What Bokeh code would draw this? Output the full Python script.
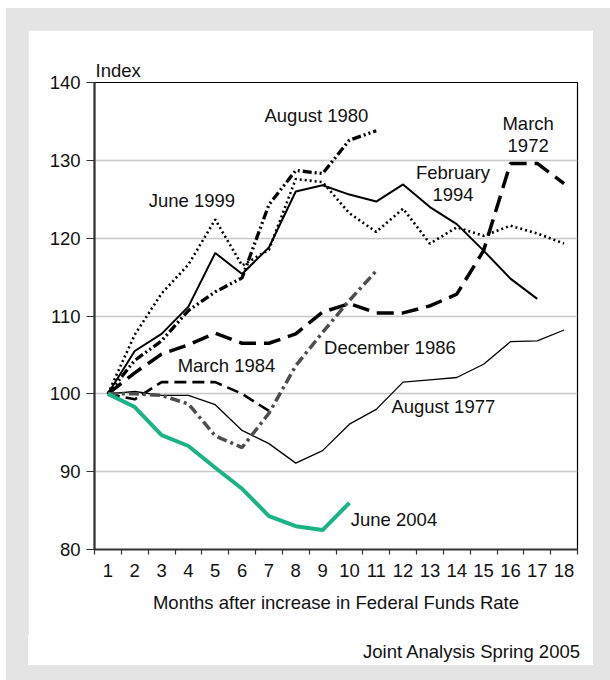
from bokeh.plotting import figure
from bokeh.models import Range1d, FixedTicker, Label, Title, Div
from bokeh.layouts import column
from bokeh.embed import file_html
from bokeh.resources import INLINE

FONT = "Liberation Sans"
FS = "18.5px"

months = list(range(1, 19))

june_2004 = [100, 98.3, 94.7, 93.3, 90.5, 87.8, 84.3, 83.0, 82.5, 86.0]
june_1999 = [100, 107.6, 112.9, 116.6, 122.4, 116.5, 118.5, 127.6, 127.2, 123.2,
             120.8, 123.8, 119.3, 121.4, 120.3, 121.6, 120.6, 119.3]
february_1994 = [100, 105.5, 107.7, 111.2, 118.1, 115.4, 118.8, 126.0, 126.8, 125.6,
                 124.7, 126.9, 124.0, 121.8, 118.4, 114.8, 112.2]
august_1980 = [100, 104.3, 106.8, 110.7, 113.1, 114.9, 124.3, 128.7, 128.3, 132.6, 133.8]
march_1972 = [100, 102.7, 105.1, 106.3, 107.8, 106.5, 106.5, 107.7, 110.5, 111.6,
              110.4, 110.4, 111.3, 112.8, 118.4, 129.6, 129.6, 127.0]
march_1984 = [100, 99.3, 101.5, 101.5, 101.5, 100.0, 97.8]
december_1986 = [100, 100.0, 99.8, 98.7, 94.6, 93.1, 97.5, 103.6, 107.9, 112.0, 115.8]
august_1977 = [100, 100.3, 99.8, 99.8, 98.6, 95.3, 93.6, 91.1, 92.7, 96.1,
               98.0, 101.5, 101.8, 102.1, 103.8, 106.7, 106.8, 108.2]

y_ticks = [80, 90, 100, 110, 120, 130, 140]

p = figure(width=565, height=605, output_backend="svg", toolbar_location=None,
           x_range=Range1d(0.5, 18.5), y_range=Range1d(80, 140),
           min_border_left=66, min_border_right=16, min_border_top=52, min_border_bottom=86,
           border_fill_color="white", background_fill_color="white",
           outline_line_color="black", outline_line_width=1.2, margin=0)

p.xgrid.grid_line_color = None
p.ygrid.grid_line_color = "#c8c8c8"
p.ygrid.grid_line_width = 1.5

p.xaxis.ticker = FixedTicker(ticks=months, minor_ticks=[m - 0.5 for m in months] + [18.5])
p.xaxis.major_tick_out = 0
p.xaxis.major_tick_in = 0
p.xaxis.minor_tick_out = 5
p.xaxis.minor_tick_in = 0
p.xaxis.minor_tick_line_color = "#333333"
p.xaxis.minor_tick_line_width = 1.2
p.xaxis.axis_line_color = "#333333"
p.xaxis.axis_line_width = 2
p.xaxis.major_label_standoff = 9
p.xaxis.axis_label = "Months after increase in Federal Funds Rate"
p.xaxis.axis_label_standoff = 12

p.yaxis.ticker = FixedTicker(ticks=y_ticks)
p.yaxis.minor_tick_line_color = None
p.yaxis.major_tick_out = 8
p.yaxis.major_tick_in = 0
p.yaxis.major_tick_line_color = "#333333"
p.yaxis.major_tick_line_width = 1.2
p.yaxis.axis_line_color = "#333333"
p.yaxis.axis_line_width = 2.2
p.yaxis.major_label_standoff = 6

for ax in (p.xaxis, p.yaxis):
    ax.major_label_text_font = FONT
    ax.major_label_text_font_size = FS
    ax.major_label_text_color = "#111111"
    ax.axis_label_text_font = FONT
    ax.axis_label_text_font_size = FS
    ax.axis_label_text_font_style = "normal"
    ax.axis_label_text_color = "#111111"

def xs(vals):
    return months[:len(vals)]

p.line(xs(august_1977), august_1977, line_color="black", line_width=1.3)
p.line(xs(february_1994), february_1994, line_color="black", line_width=2)
p.line(xs(june_1999), june_1999, line_color="black", line_width=2.6, line_dash="2 3")
p.line(xs(march_1984), march_1984, line_color="black", line_width=2.6, line_dash="12 6")
p.line(xs(march_1972), march_1972, line_color="black", line_width=3.5, line_dash="17 8")
p.line(xs(august_1980), august_1980, line_color="black", line_width=3.3, line_dash="9 3 2 3 2 3")
p.line(xs(december_1986), december_1986, line_color="#4d4d4d", line_width=3.5, line_dash="10 4 3 4")
p.line(xs(june_2004), june_2004, line_color="#1bb386", line_width=4)

labels = [
    ("August 1980", 8.77, 135.8),
    ("June 1999", 4.13, 124.8),
    ("February", 13.86, 128.4),
    ("1994", 13.86, 125.6),
    ("March", 16.66, 134.7),
    ("1972", 16.66, 131.9),
    ("March 1984", 5.42, 103.6),
    ("December 1986", 11.51, 105.9),
    ("August 1977", 13.5, 98.4),
    ("June 2004", 11.66, 83.9),
]
for txt, x, y in labels:
    p.add_layout(Label(x=x, y=y, text=txt, text_font=FONT, text_font_size=FS,
                       text_color="#111111", text_align="center", text_baseline="middle"))

p.add_layout(Title(text="Index", align="left", offset=1, standoff=4,
                   text_font=FONT, text_font_size=FS, text_font_style="normal",
                   text_color="#111111"), "above")

source_note = Div(
    text="Joint Analysis Spring 2005",
    width=565, height=30, margin=0,
    styles={"background-color": "white", "text-align": "right",
            "padding-right": "13px", "padding-top": "6px", "box-sizing": "border-box",
            "font-family": "'Liberation Sans', Arial, sans-serif", "font-size": "18.5px",
            "line-height": "22px", "color": "#111111"})

layout = column(p, source_note, spacing=0,
                styles={"background-color": "#e4e4e4", "padding": "22px 17px 15px 22px",
                        "margin-left": "6px", "margin-top": "8px"})

open("out.html", "w").write(file_html(layout, INLINE))
